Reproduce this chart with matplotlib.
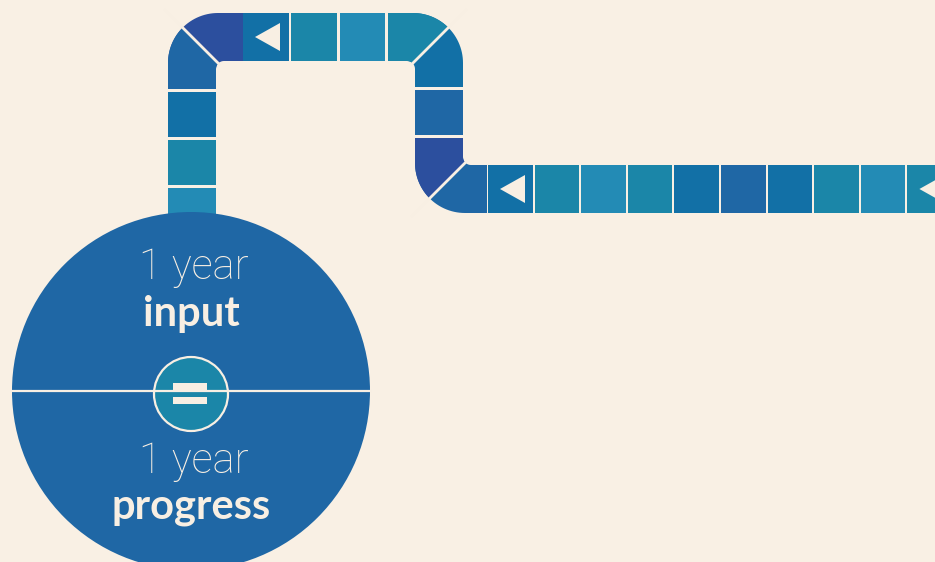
import matplotlib
matplotlib.use("Agg")
import matplotlib.pyplot as plt
from matplotlib.patches import Polygon, Rectangle, Circle
import numpy as np

# colours of the board squares, in the order the track is walked
left_col_colors = ["#1270a6", "#1b86a8", "#238bb5"]          # top to bottom
top_row_colors = ["#1270a6", "#1b86a8", "#238bb5"]           # left to right
right_col_colors = ["#1f67a5"]
bottom_row_colors = ["#1270a6", "#1b86a8", "#238bb5", "#1b86a8", "#1270a6",
                     "#1f67a5", "#1270a6", "#1b86a8", "#238bb5", "#1b86a8"]
top_row_arrows = [0]
bottom_row_arrows = [0, 9]

# corner halves: (first arm colour, second arm colour)
corner_colors = [("#1f67a5", "#2c4f9e"),
                 ("#1b86a8", "#1270a6"),
                 ("#2c4f9e", "#1f67a5")]

label_top = ["1 year", "input"]
label_bottom = ["1 year", "progress"]

BG = "#f9f0e4"
CREAM = "#f8efe3"
CIRCLE = "#1f67a5"
EQ_FILL = "#1b86a8"
W = 48  # band width in px


def corner(ax, O, d1, d2, L1, L2, c1, c2, R=50, r=8):
    O = np.array(O, float)
    d1 = np.array(d1, float)
    d2 = np.array(d2, float)
    I = O + W * d1 + W * d2
    pts = [O + L1 * d1, O + R * d1]
    C = O + R * (d1 + d2)
    for t in np.linspace(np.pi / 2, 0, 30):
        pts.append(C - R * (np.cos(t) * d1 + np.sin(t) * d2))
    pts += [O + L2 * d2, O + L2 * d2 + W * d1, I + r * d2]
    Ci = I + r * (d1 + d2)
    for t in np.linspace(0, np.pi / 2, 15):
        pts.append(Ci - r * (np.cos(t) * d1 + np.sin(t) * d2))
    pts += [O + L1 * d1 + W * d2]
    pts = np.array(pts)
    ax.add_patch(Polygon(pts, closed=True, fc=c2, ec="none"))
    # half on the first arm's side of the diagonal
    B = 500
    half = Polygon([O - B * (d1 + d2), O + B * (d1 + d2),
                    O + B * (d1 + d2) + B * (d1 - d2),
                    O - B * (d1 + d2) + B * (d1 - d2)],
                   closed=True, transform=ax.transData)
    p1 = Polygon(pts, closed=True, fc=c1, ec="none")
    ax.add_patch(p1)
    p1.set_clip_path(half)
    a = I + 4 * (d1 + d2)
    b = O - 4 * (d1 + d2)
    ax.plot([a[0], b[0]], [a[1], b[1]], color=CREAM, lw=2.0,
            solid_capstyle="butt")


def arrow(ax, x0, y0, size):
    cy = y0 + size / 2
    ax.add_patch(Polygon([[x0 + 12, cy], [x0 + 37, cy - 14], [x0 + 37, cy + 14]],
                         closed=True, fc=CREAM, ec="none"))


fig = plt.figure(figsize=(9.35, 5.62), dpi=100, facecolor=BG)
ax = fig.add_axes([0, 0, 1, 1])
ax.set_xlim(0, 935)
ax.set_ylim(562, 0)
ax.set_facecolor(BG)
ax.axis("off")

# left column
for i, c in enumerate(left_col_colors):
    y = 92 + i * 48
    ax.add_patch(Rectangle((168, y), W, 45, fc=c, ec="none"))

# top row
for i, c in enumerate(top_row_colors):
    x = 243 + i * 48.3
    ax.add_patch(Rectangle((x, 13), 45.5, W, fc=c, ec="none"))
    if i in top_row_arrows:
        arrow(ax, x, 13, W)

# right column
for i, c in enumerate(right_col_colors):
    ax.add_patch(Rectangle((415, 90 + i * 48), W, 45, fc=c, ec="none"))

# bottom row
for i, c in enumerate(bottom_row_colors):
    x = 488 + i * 46.6
    ax.add_patch(Rectangle((x, 165), 44.5, W, fc=c, ec="none"))
    if i in bottom_row_arrows:
        arrow(ax, x, 165, W)

# corners
corner(ax, (168, 13), (0, 1), (1, 0), 76, 75, *corner_colors[0])
corner(ax, (463, 13), (-1, 0), (0, 1), 75, 74, *corner_colors[1])
corner(ax, (415, 213), (0, -1), (1, 0), 75, 72, *corner_colors[2])

# big circle
cx, cy, rad = 191, 391, 179
ax.add_patch(Circle((cx, cy), rad, fc=CIRCLE, ec="none"))
ax.plot([cx - rad, cx + rad], [cy, cy], color=CREAM, lw=1.6)
ax.add_patch(Circle((cx, cy + 3), 37, fc=EQ_FILL, ec=CREAM, lw=1.6))
ax.add_patch(Rectangle((cx - 18, cy - 8), 34, 7, fc=CREAM, ec="none"))
ax.add_patch(Rectangle((cx - 18, cy + 6), 34, 7, fc=CREAM, ec="none"))

ax.text(cx + 3, 279, label_top[0], ha="center", va="baseline", color=CREAM,
        fontsize=30, family="Roboto", fontweight="light")
ax.text(cx, 326, label_top[1], ha="center", va="baseline", color=CREAM,
        fontsize=30, family="Lato", fontweight="bold")
ax.text(cx + 3, 473, label_bottom[0], ha="center", va="baseline", color=CREAM,
        fontsize=30, family="Roboto", fontweight="light")
ax.text(cx, 518, label_bottom[1], ha="center", va="baseline", color=CREAM,
        fontsize=30, family="Lato", fontweight="bold")

fig.savefig("out.png", dpi=100, facecolor=BG)
